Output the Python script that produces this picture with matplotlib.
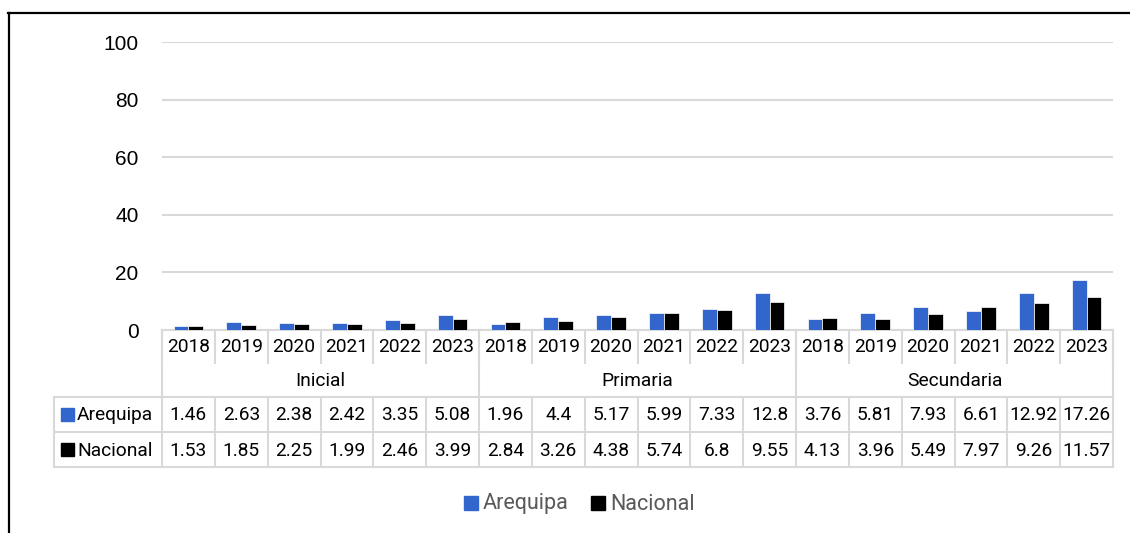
import matplotlib
matplotlib.use("Agg")
import matplotlib.pyplot as plt
import numpy as np

# Data
levels = ["Inicial", "Primaria", "Secundaria"]
years = ["2018", "2019", "2020", "2021", "2022", "2023"]
arequipa = [1.46, 2.63, 2.38, 2.42, 3.35, 5.08,
            1.96, 4.4, 5.17, 5.99, 7.33, 12.8,
            3.76, 5.81, 7.93, 6.61, 12.92, 17.26]
nacional = [1.53, 1.85, 2.25, 1.99, 2.46, 3.99,
            2.84, 3.26, 4.38, 5.74, 6.8, 9.55,
            4.13, 3.96, 5.49, 7.97, 9.26, 11.57]
yticks = [0, 20, 40, 60, 80, 100]

blue = "#3366CC"
black = "#000000"
grid_c = "#D9D9D9"
font = "Roboto"
fs = 13.8

W, H = 1130, 533
fig = plt.figure(figsize=(W / 100, H / 100), dpi=100)

# plot area in pixels
px_l, px_r, px_t, px_b = 162, 1113, 42, 330
ax = fig.add_axes([px_l / W, 1 - px_b / H, (px_r - px_l) / W, (px_b - px_t) / H])

n = len(arequipa)
x = np.arange(n)
bw = 0.28
ax.bar(x - bw / 2, arequipa, bw, color=blue, edgecolor="white", linewidth=0.5, zorder=3)
ax.bar(x + bw / 2, nacional, bw, color=black, edgecolor="white", linewidth=0.5, zorder=3)
ax.set_xlim(-0.5, n - 0.5)
ax.set_ylim(0, 100)
ax.set_yticks(yticks)
ax.set_yticklabels([str(v) for v in yticks], fontsize=15, family="Liberation Sans")
ax.tick_params(axis="y", length=0, pad=17)
ax.set_xticks([])
ax.grid(axis="y", color=grid_c, linewidth=1.5, zorder=0)
for s in ["top", "right", "left"]:
    ax.spines[s].set_visible(False)
ax.spines["bottom"].set_color(grid_c)
ax.spines["bottom"].set_linewidth(1.5)

# overlay in pixel coordinates for table, legend and frame
ov = fig.add_axes([0, 0, 1, 1])
ov.set_xlim(0, W)
ov.set_ylim(H, 0)
ov.axis("off")
ov.patch.set_alpha(0)

colw = (px_r - px_l) / n
lw = 1.5
r_year = (px_b, 363)
r_lvl = (363, 397)
r_a = (397, 432)
r_n = (432, 467)
tab_l = 54

# vertical separators in year row
for i in range(n + 1):
    xx = px_l + i * colw
    ov.plot([xx, xx], [px_b, r_year[1]], color=grid_c, lw=lw)
# group boundaries through level row
for g in range(len(levels) + 1):
    xx = px_l + g * 6 * colw
    ov.plot([xx, xx], [px_b, r_lvl[1]], color=grid_c, lw=lw)
# data rows
for yy in [r_a[0], r_n[0], r_n[1]]:
    ov.plot([tab_l, px_r], [yy, yy], color=grid_c, lw=lw)
for i in range(n + 1):
    xx = px_l + i * colw
    ov.plot([xx, xx], [r_a[0], r_n[1]], color=grid_c, lw=lw)
ov.plot([tab_l, tab_l], [r_a[0], r_n[1]], color=grid_c, lw=lw)

# text
for i in range(n):
    cx = px_l + (i + 0.5) * colw
    ov.text(cx, sum(r_year) / 2 + 1, years[i % 6], ha="center", va="center",
            fontsize=fs, family=font)
    ov.text(cx, sum(r_a) / 2 + 1, f"{arequipa[i]:g}", ha="center", va="center",
            fontsize=fs, family=font)
    ov.text(cx, sum(r_n) / 2 + 1, f"{nacional[i]:g}", ha="center", va="center",
            fontsize=fs, family=font)
for g, lev in enumerate(levels):
    cx = px_l + (g * 6 + 3) * colw
    ov.text(cx, sum(r_lvl) / 2 + 1, lev, ha="center", va="center",
            fontsize=fs, family=font)

# series keys in table
for name, col, row in [("Arequipa", blue, r_a), ("Nacional", black, r_n)]:
    cy = sum(row) / 2
    ov.add_patch(plt.Rectangle((61, cy - 6.5), 13, 13, color=col))
    ov.text(77, cy + 1, name, ha="left", va="center", fontsize=fs, family=font)

# legend
ly = 503
for name, col, x0 in [("Arequipa", blue, 464), ("Nacional", black, 591)]:
    ov.add_patch(plt.Rectangle((x0, ly - 7), 14, 14, color=col))
    ov.text(x0 + 19, ly + 1, name, ha="left", va="center", fontsize=15.5,
            family=font, color="#595959")

# outer frame (left and top edges visible)
ov.plot([8.5, 8.5], [13, H], color="black", lw=1.6)
ov.plot([8, W], [13, 13], color="black", lw=1.6)

fig.savefig("out.png", dpi=100)
